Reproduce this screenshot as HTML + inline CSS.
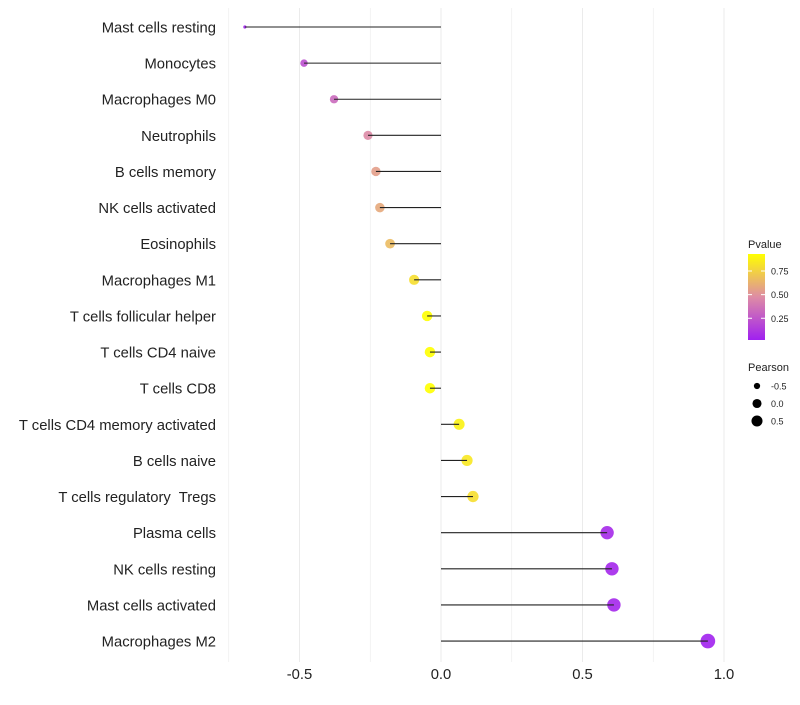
<!DOCTYPE html>
<html><head><meta charset="utf-8"><style>
body{margin:0;background:#fff;font-family:"Liberation Sans",sans-serif}
text{white-space:pre}
</style></head><body>
<svg id="c" width="800" height="700" xmlns="http://www.w3.org/2000/svg"></svg>
<script>
const categories=["Mast cells resting","Monocytes","Macrophages M0","Neutrophils","B cells memory","NK cells activated","Eosinophils","Macrophages M1","T cells follicular helper","T cells CD4 naive","T cells CD8","T cells CD4 memory activated","B cells naive","T cells regulatory  Tregs","Plasma cells","NK cells resting","Mast cells activated","Macrophages M2"];
const pearson=[-0.693,-0.484,-0.378,-0.258,-0.230,-0.216,-0.180,-0.095,-0.049,-0.039,-0.039,0.064,0.092,0.113,0.587,0.604,0.611,0.943];
const pvalue=[0.02,0.22,0.33,0.47,0.55,0.59,0.66,0.80,0.93,0.93,0.93,0.88,0.84,0.80,0.06,0.05,0.05,0.03];
const xTicks=[-0.5,0,0.5,1.0];
const xTickLabels=["-0.5","0.0","0.5","1.0"];
const pTicks=[0.25,0.5,0.75];
const sizeLegend=[-0.5,0,0.5];

const svg=document.getElementById('c');const NS="http://www.w3.org/2000/svg";
function mk(t,a,p){const e=document.createElementNS(NS,t);for(const k in a)e.setAttribute(k,a[k]);(p||svg).appendChild(e);return e;}
const X=v=>441+v*283;
const Y=i=>27+i*36.12;
const pmin=Math.min(...pvalue),pmax=Math.max(...pvalue);
const smin=Math.min(...pearson),smax=Math.max(...pearson);
const R=v=>{const t=(v-smin)/(smax-smin);return Math.max(1.6,0.98*Math.sqrt(1+35*t)+1.45-(t<0.02?0.9:0));};
const stops=[[160,32,240],[222,140,165],[255,255,0]];
function col(p){let t=(p-pmin)/(pmax-pmin);t=Math.max(0,Math.min(1,t));let a,b,u;if(t<0.5){a=stops[0];b=stops[1];u=t*2}else{a=stops[1];b=stops[2];u=(t-0.5)*2}
return 'rgb('+a.map((c,k)=>Math.round(c+(b[k]-c)*u)).join(',')+')';}
for(let v=-0.75;v<=1.01;v+=0.25){const g=mk('line',{x1:X(v),x2:X(v),y1:8,y2:662,stroke:'#ebebeb','stroke-width':Math.abs(v*2-Math.round(v*2))<1e-6?1:0.6});}
xTicks.forEach((v,i)=>{const t=mk('text',{x:X(v),y:679,'font-size':14.8,'text-anchor':'middle',fill:'#222'});t.textContent=xTickLabels[i];});
categories.forEach((c,i)=>{
const t=mk('text',{x:216,y:Y(i)+5.5,'font-size':14.8,'text-anchor':'end',fill:'#222'});t.textContent=c;
const d=mk('circle',{cx:X(pearson[i]),cy:Y(i),r:R(pearson[i]),fill:col(pvalue[i]),'fill-opacity':0.9});
const l=mk('line',{x1:X(0),x2:X(pearson[i]),y1:Y(i),y2:Y(i),stroke:'#222','stroke-width':1.1});
});
const defs=mk('defs',{});const lg=mk('linearGradient',{id:'g',x1:0,y1:1,x2:0,y2:0},defs);
[0,0.5,1].forEach((o,k)=>mk('stop',{offset:o,'stop-color':'rgb('+stops[k].join(',')+')'},lg));
let tt=mk('text',{x:748,y:248,'font-size':11,fill:'#222'});tt.textContent='Pvalue';
const bar=mk('rect',{x:748,y:254,width:17,height:86,fill:'url(#g)'});
const PY=p=>340-(p-0.02)/(0.93-0.02)*86;
pTicks.forEach(p=>{mk('line',{x1:748,x2:752,y1:PY(p),y2:PY(p),stroke:'#fff'});mk('line',{x1:761,x2:765,y1:PY(p),y2:PY(p),stroke:'#fff'});const t=mk('text',{x:771,y:PY(p)+3.5,'font-size':9,fill:'#222'});t.textContent=p.toFixed(2);});
tt=mk('text',{x:748,y:371,'font-size':11,fill:'#222'});tt.textContent='Pearson';
sizeLegend.forEach((v,k)=>{const y=386+k*17.5;const c=mk('circle',{cx:757,cy:y,r:R(v)*0.85,fill:'#000'});const t=mk('text',{x:771,y:y+3.5,'font-size':9,fill:'#222'});t.textContent=v.toFixed(1);});
</script></body></html>
